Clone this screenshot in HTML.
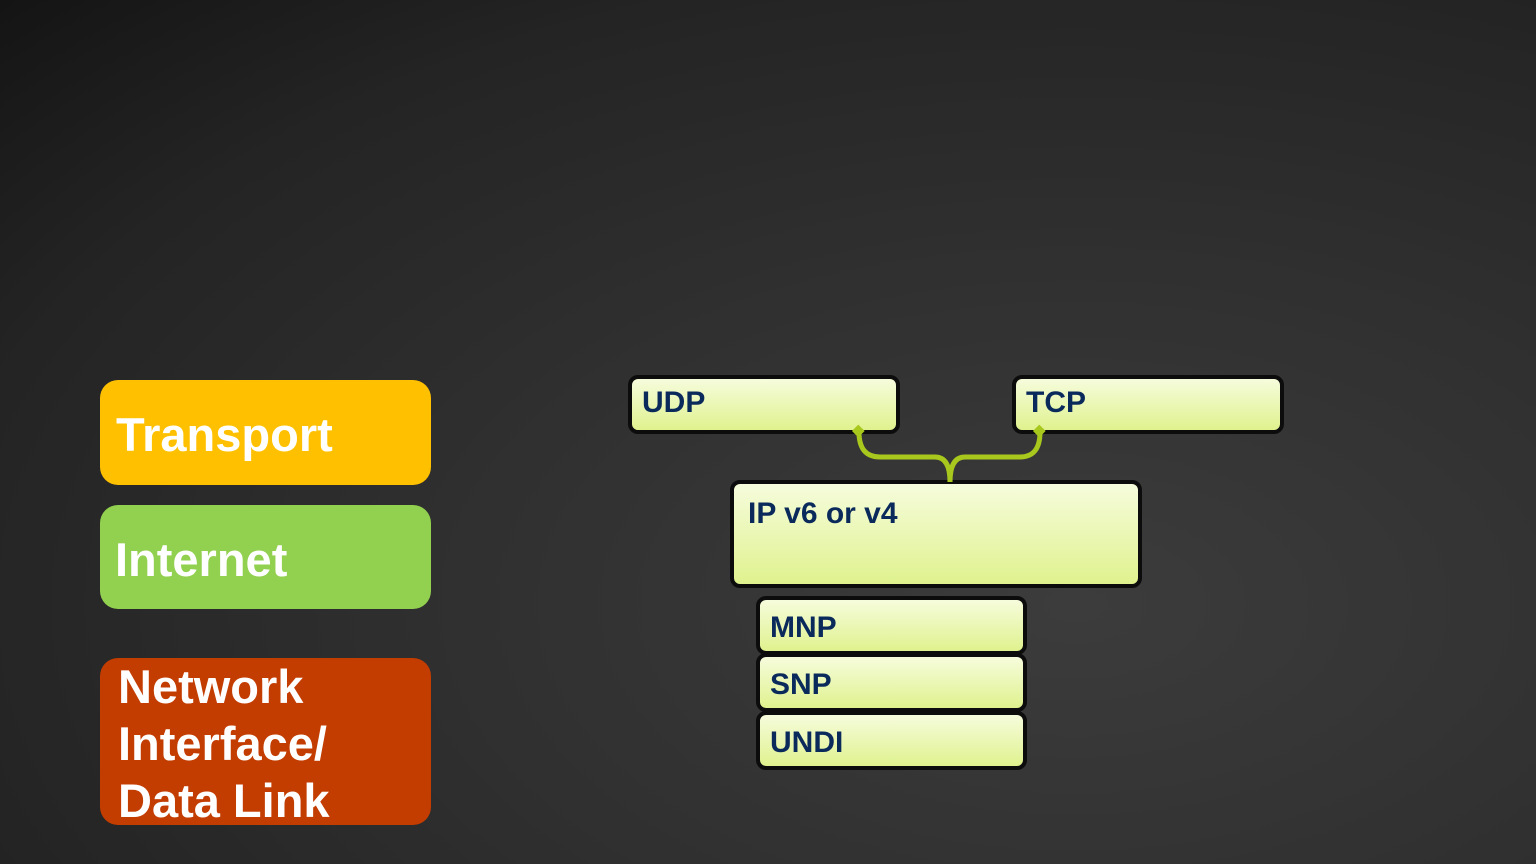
<!DOCTYPE html>
<html><head><style>
body{margin:0;width:1536px;height:864px;overflow:hidden;font-family:"Liberation Sans",sans-serif;font-weight:bold;
background:radial-gradient(ellipse at 70% 70%,#3c3c3c 0%,#303030 40%,#242424 75%,#141414 100%);position:relative}
.l{position:absolute;left:100px;width:331px;border-radius:18px;color:#fff;font-size:47px}
.b{position:absolute;border:4px solid #0c0c0c;border-radius:10px;background:linear-gradient(#f6fcdc,#dff28e);color:#0b2a5c;font-size:30px;box-sizing:border-box;padding-left:10px;line-height:48px}
</style></head><body>
<div class="l" style="top:380px;height:105px;background:#ffc000"><span style="position:absolute;left:16px;top:27px">Transport</span></div>
<div class="l" style="top:505px;height:104px;background:#92d050"><span style="position:absolute;left:15px;top:27px">Internet</span></div>
<div class="l" style="top:658px;height:167px;background:#c33c00;line-height:57px"><div style="padding-left:18px;margin-top:0px">Network<br>Interface/<br>Data Link</div></div>
<div class="b" style="left:628px;top:375px;width:272px;height:59px">UDP</div>
<div class="b" style="left:1012px;top:375px;width:272px;height:59px">TCP</div>
<div class="b" style="left:730px;top:480px;width:412px;height:108px;padding-left:14px;line-height:60px">IP v6 or v4</div>
<div class="b" style="left:756px;top:596px;width:271px;height:59px;line-height:56px">MNP</div>
<div class="b" style="left:756px;top:653px;width:271px;height:59px;line-height:56px">SNP</div>
<div class="b" style="left:756px;top:711px;width:271px;height:59px;line-height:56px">UNDI</div>
<svg width="1536" height="864" style="position:absolute;left:0;top:0">
<path d="M859 432 Q859 457 880 457 L935 457 Q950 457 950 482 Q950 457 965 457 L1020 457 Q1040 457 1040 432" fill="none" stroke="#a8c81e" stroke-width="5"/>
<rect x="854" y="427" width="9" height="9" fill="#a8c81e" transform="rotate(45 859 431)"/>
<rect x="1035" y="427" width="9" height="9" fill="#a8c81e" transform="rotate(45 1040 431)"/>
</svg>
</body></html>
